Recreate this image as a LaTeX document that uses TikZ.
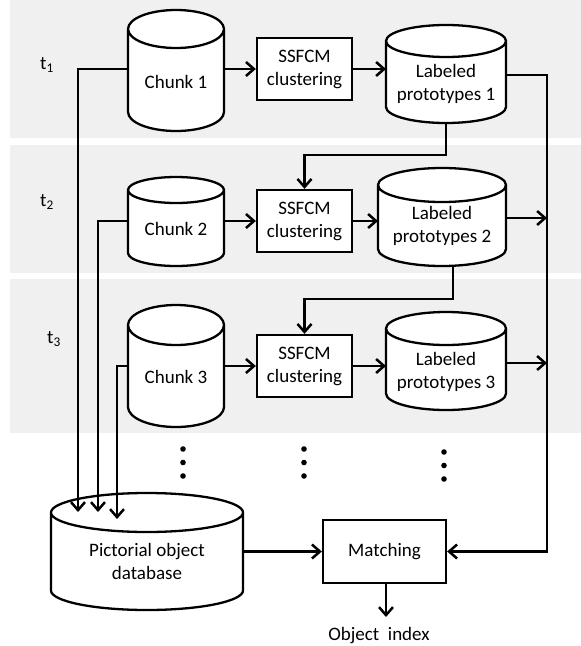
\documentclass[tikz,border=0pt]{standalone}
\usepackage{fontspec}
\setmainfont{Carlito}
\usetikzlibrary{arrows.meta}

\begin{document}
\begin{tikzpicture}[x=1pt,y=-1pt,>={Straight Barb[length=8pt,width=14pt]},font=\fontsize{19}{23}\selectfont,
  band/.style={fill=black!6},
  can/.style={draw,fill=white,line width=2.3pt},
  cantext/.style={inner sep=0pt,outer sep=0pt,align=center},
  proc/.style={draw,fill=white,line width=2.3pt,align=center,inner sep=0pt},
  flow/.style={->,line width=2.5pt}]
  \useasboundingbox (0,0) rectangle (581,646);
  \fill[band] (10,0) rectangle (581,138);
  \fill[band] (10,145) rectangle (581,273);
  \fill[band] (10,279) rectangle (581,433);
  \draw[can] (128,29) -- (128,112) arc[start angle=180,end angle=360,x radius=48pt,y radius=19pt] -- (224,29) arc[start angle=0,end angle=180,x radius=48pt,y radius=19pt] -- cycle (176,29) ellipse[x radius=48pt,y radius=19pt];
  \draw[can] (128,190) -- (128,253) arc[start angle=180,end angle=360,x radius=48pt,y radius=13pt] -- (224,190) arc[start angle=0,end angle=180,x radius=48pt,y radius=13pt] -- cycle (176,190) ellipse[x radius=48pt,y radius=13pt];
  \draw[can] (128,325) -- (128,407) arc[start angle=180,end angle=360,x radius=48pt,y radius=20pt] -- (224,325) arc[start angle=0,end angle=180,x radius=48pt,y radius=20pt] -- cycle (176,325) ellipse[x radius=48pt,y radius=20pt];
  \draw[can] (386,41) -- (386,107) arc[start angle=180,end angle=360,x radius=60pt,y radius=16pt] -- (506,41) arc[start angle=0,end angle=180,x radius=60pt,y radius=16pt] -- cycle (446,41) ellipse[x radius=60pt,y radius=16pt];
  \draw[can] (378,185) -- (378,249) arc[start angle=180,end angle=360,x radius=64pt,y radius=17pt] -- (506,185) arc[start angle=0,end angle=180,x radius=64pt,y radius=17pt] -- cycle (442,185) ellipse[x radius=64pt,y radius=17pt];
  \draw[can] (386,328.5) -- (386,393.5) arc[start angle=180,end angle=360,x radius=60pt,y radius=16.5pt] -- (506,328.5) arc[start angle=0,end angle=180,x radius=60pt,y radius=16.5pt] -- cycle (446,328.5) ellipse[x radius=60pt,y radius=16.5pt];
  \draw[can] (51,512.5) -- (51,590.5) arc[start angle=180,end angle=360,x radius=96pt,y radius=19.5pt] -- (243,512.5) arc[start angle=0,end angle=180,x radius=96pt,y radius=19.5pt] -- cycle (147,512.5) ellipse[x radius=96pt,y radius=19.5pt];
  \node (t1) at (47,65) {t\textsubscript{1}};
  \node (t2) at (47,202) {t\textsubscript{2}};
  \node (t3) at (54,339) {t\textsubscript{3}};
  \node[cantext,minimum width=96] (chunk1) at (176,82) {Chunk 1};
  \node[cantext,minimum width=96] (chunk2) at (176,229) {Chunk 2};
  \node[cantext,minimum width=96] (chunk3) at (176,377) {Chunk 3};
  \node[proc,minimum width=95,minimum height=62] (ssfcm1) at (304.5,69) {SSFCM\\clustering};
  \node[proc,minimum width=95,minimum height=62] (ssfcm2) at (304.5,221) {SSFCM\\clustering};
  \node[proc,minimum width=95,minimum height=62] (ssfcm3) at (304.5,366) {SSFCM\\clustering};
  \node[cantext,minimum width=120] (lp1) at (446,83.5) {Labeled\\prototypes 1};
  \node[cantext,minimum width=128] (lp2) at (442,225.5) {Labeled\\prototypes 2};
  \node[cantext,minimum width=120] (lp3) at (446,371.5) {Labeled\\prototypes 3};
  \node[cantext,minimum width=192] (db) at (147,561.5) {Pictorial object\\database};
  \node[proc,minimum width=123,minimum height=63] (match) at (384.5,551.5) {Matching};
  \node[inner sep=0pt] (objidx) at (379,636) {Object\ \ index};
  \foreach \dx/\dy in {183/0,304/0,444/3}
    \foreach \k in {0,1,2}
      \fill (\dx,{449+\dy+13.5*\k}) circle[radius=2.8pt];
  \coordinate (bus1) at (547,75);
  \coordinate (bus2) at (547,218);
  \coordinate (bus3) at (547,363);
  \coordinate (in1) at (78,512);
  \coordinate (in2) at (98,512);
  \coordinate (in3) at (117,519);
  \coordinate (lp1b) at (446,123);
  \coordinate (lp2b) at (453,266);
  \coordinate (idxtip) at (386,617);
  \draw[flow] (chunk1.east |- ssfcm1) -- (ssfcm1);
  \draw[flow] (chunk2.east |- ssfcm2) -- (ssfcm2);
  \draw[flow] (chunk3.east |- ssfcm3) -- (ssfcm3);
  \draw[flow] (ssfcm1) -- (ssfcm1 -| lp1.west);
  \draw[flow] (ssfcm2) -- (ssfcm2 -| lp2.west);
  \draw[flow] (ssfcm3) -- (ssfcm3 -| lp3.west);
  \draw[flow] (lp1.east |- bus1) -- (bus1) |- (match);
  \draw[flow] (lp2.east |- bus2) -- (bus2);
  \draw[flow] (lp3.east |- bus3) -- (bus3);
  \draw[flow] (lp1b) -- ++(0,32) -| (ssfcm2);
  \draw[flow] (lp2b) -- ++(0,33) -| (ssfcm3);
  \draw[flow] (chunk1.west |- ssfcm1) -| (in1);
  \draw[flow] (chunk2.west |- ssfcm2) -| (in2);
  \draw[flow] (chunk3.west |- ssfcm3) -| (in3);
  \draw[flow] (db.east |- match) -- (match);
  \draw[flow] (match.south -| idxtip) -- (idxtip);
\end{tikzpicture}
\end{document}
